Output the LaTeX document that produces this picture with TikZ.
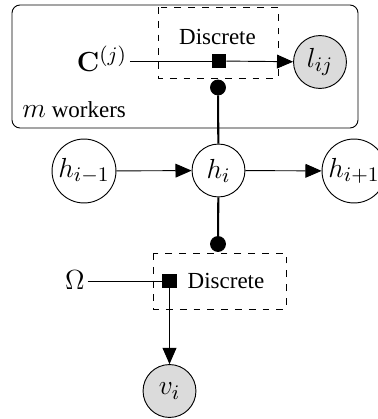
\documentclass[tikz,border=0pt]{standalone}
\usepackage[no-math]{fontspec}
\setmainfont{Liberation Serif}
\usetikzlibrary{arrows.meta}
\newcommand{\mfs}{\fontsize{12.2}{14}\selectfont}
\begin{document}
\begin{tikzpicture}[x=0.4348pt,y=-0.4348pt,
  latent/.style={draw,circle,thin,minimum size=23pt,inner sep=1pt,font=\mfs},
  obs/.style={latent,fill=black!14},
  factor/.style={draw,fill=black,rectangle,minimum size=6pt,inner sep=0pt},
  dot/.style={draw,fill=black,circle,minimum size=6.5pt,inner sep=0pt},
  arr/.style={-{Triangle[length=7pt,width=6pt]},thin},
  thk/.style={line width=0.9pt},
  mlab/.style={inner sep=1pt,font=\mfs},
  dbox/.style={draw,dashed,thin}]
\useasboundingbox (0,0) rectangle (377,419);
% plate
\draw[thin,rounded corners=3.5pt] (12,5) rectangle (358,128);
\node[anchor=west,inner sep=0pt] (mw) at (22,110) {{\mfs$m$} workers};
% top factor
\draw[dbox] (158,7) rectangle (278,78);
\node (d1) at (217.5,37) {Discrete};
\node[factor] (f1) at (219,61) {};
\node[mlab] (C) at (102,59) {$\mathbf{C}^{(j)}$};
\node[obs] (l) at (320,62) {$l_{ij}$};
\node[dot] (b1) at (218,87.5) {};
% chain
\node[latent,minimum size=27.8pt] (hm) at (84,171) {$h_{i-1}$};
\node[latent] (h) at (218.5,170.5) {$h_i$};
\node[latent,minimum size=27.8pt] (hp) at (354,171) {$h_{i+1}$};
\node[dot] (b2) at (218,244) {};
% bottom factor
\draw[dbox] (153,253) rectangle (286,309);
\node[factor] (f2) at (169.5,281) {};
\node (d2) at (226,281) {Discrete};
\node[mlab] (om) at (75,280) {$\Omega$};
\node[obs] (v) at (169.5,391) {$v_i$};
% edges
\draw[thin] (C.east |- f1) -- (f1);
\draw[arr] (f1) -- (l);
\draw[thk] (b1) -- (h);
\draw[arr] (hm) -- (h);
\draw[arr] (h) -- (hp);
\draw[thk] (h) -- (b2);
\draw[thin] (om.east |- f2) -- (f2);
\draw[arr] (f2) -- (v);
\end{tikzpicture}
\end{document}
